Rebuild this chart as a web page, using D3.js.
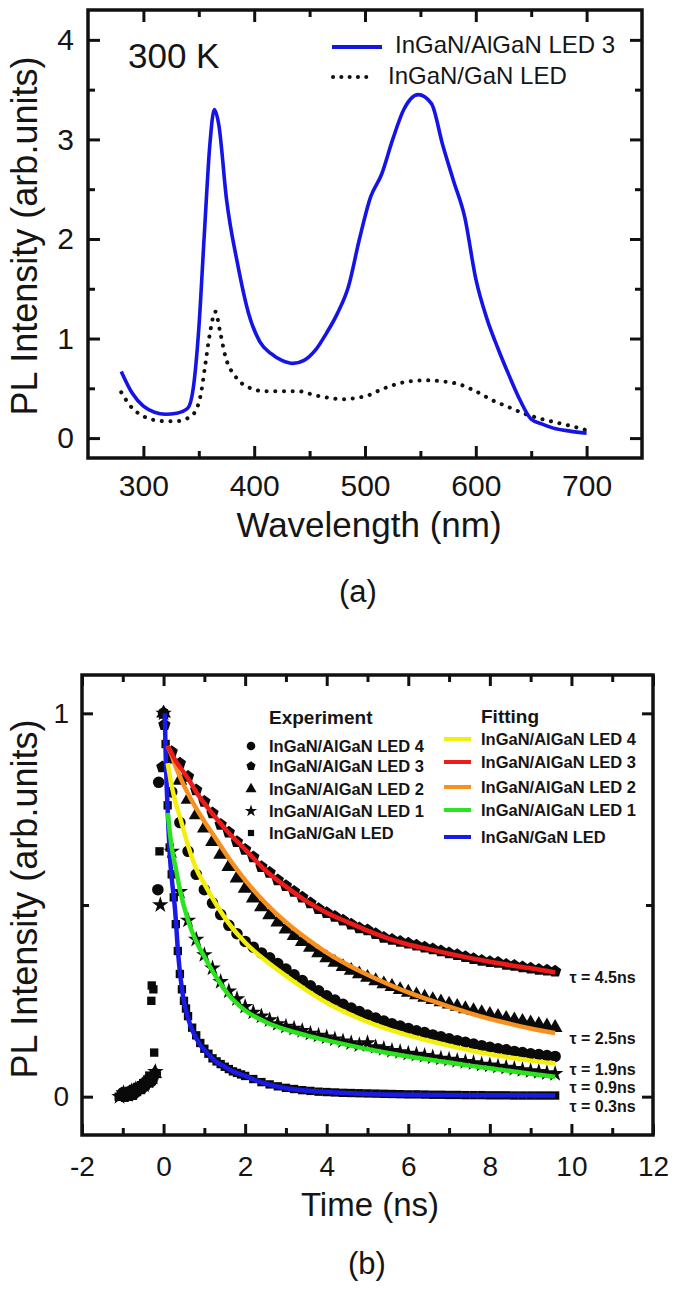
<!DOCTYPE html>
<html><head><meta charset="utf-8">
<script src="https://cdn.jsdelivr.net/npm/d3@7"></script>
<style>
body{margin:0;background:#fff}
svg{display:block}
text{font-family:"Liberation Sans",Arial,sans-serif;fill:#151515}
</style>
</head><body>
<svg id="c" width="680" height="1289"></svg>
<script>
// ================= Panel (a) data =================
const wlBlue = [280,290,300,310,320,330,340,345,350,355,360,364,368,375,385,395,405,415,425,435,445,455,465,475,485,495,505,515,525,535,548,560,570,580,590,600,610,620,630,640,650,660,670,685,700];
const plBlue = [0.67,0.45,0.32,0.26,0.24,0.25,0.30,0.50,1.10,2.05,2.95,3.30,3.15,2.40,1.75,1.25,0.97,0.85,0.78,0.75,0.78,0.88,1.05,1.25,1.52,2.00,2.42,2.65,3.00,3.30,3.45,3.36,2.95,2.58,2.22,1.60,1.20,0.90,0.63,0.38,0.19,0.14,0.10,0.07,0.05];
const wlDot = [280,290,300,310,320,330,340,347,352,356,360,365,369,374,383,395,410,425,440,455,470,480,490,503,515,525,540,555,570,585,600,615,630,645,660,675,690,700];
const plDot = [0.46,0.30,0.22,0.18,0.17,0.17,0.20,0.27,0.45,0.75,1.05,1.27,1.08,0.82,0.62,0.51,0.47,0.47,0.47,0.43,0.40,0.39,0.40,0.43,0.49,0.53,0.57,0.58,0.57,0.54,0.47,0.38,0.31,0.24,0.19,0.15,0.11,0.08];
const wlMajor = [300,400,500,600,700];
const wlMinor = [350,450,550,650];
const plMajorA = [0,1,2,3,4];
const plMinorA = [0.5,1.5,2.5,3.5];
const legendA = ["InGaN/AlGaN LED 3","InGaN/GaN LED"];

// ================= Panel (b) data =================
const expNames = ["InGaN/AlGaN LED 4","InGaN/AlGaN LED 3","InGaN/AlGaN LED 2","InGaN/AlGaN LED 1","InGaN/GaN LED"];
const fitColors = ["#f4ee0c","#ee1b1b","#f7901e","#2ce31f","#1a1ae6"];
const tauText = ["τ = 4.5ns","τ = 2.5ns","τ = 1.9ns","τ = 0.9ns","τ = 0.3ns"];

// decay experiment (shared time grid, ns)
const expTime = [0.2,0.4,0.6,0.8,1.0,1.2,1.4,1.6,1.8,2.0,2.2,2.4,2.6,2.8,3.0,3.2,3.4,3.6,3.8,4.0,4.2,4.4,4.6,4.8,5.0,5.2,5.4,5.6,5.8,6.0,6.2,6.4,6.6,6.8,7.0,7.2,7.4,7.6,7.8,8.0,8.2,8.4,8.6,8.8,9.0,9.2,9.4,9.6];
const expLED4 = [0.795,0.715,0.64,0.58,0.54,0.505,0.475,0.447,0.425,0.405,0.39,0.375,0.362,0.347,0.333,0.318,0.303,0.289,0.276,0.263,0.252,0.241,0.231,0.222,0.213,0.205,0.197,0.19,0.184,0.178,0.172,0.167,0.161,0.156,0.151,0.146,0.142,0.137,0.133,0.129,0.125,0.122,0.118,0.115,0.112,0.11,0.107,0.105];
const expLED3 = [0.90,0.87,0.835,0.80,0.77,0.74,0.71,0.69,0.665,0.645,0.625,0.60,0.585,0.565,0.55,0.535,0.52,0.505,0.49,0.48,0.47,0.46,0.45,0.44,0.435,0.425,0.415,0.41,0.405,0.40,0.395,0.39,0.385,0.38,0.375,0.37,0.365,0.36,0.355,0.352,0.35,0.345,0.342,0.338,0.335,0.332,0.33,0.327];
const expLED2 = [0.88,0.825,0.775,0.735,0.70,0.665,0.632,0.60,0.57,0.543,0.518,0.495,0.474,0.455,0.437,0.42,0.404,0.389,0.375,0.362,0.35,0.339,0.329,0.32,0.311,0.302,0.294,0.287,0.279,0.272,0.265,0.259,0.253,0.247,0.241,0.235,0.229,0.224,0.219,0.214,0.209,0.204,0.20,0.196,0.192,0.188,0.184,0.18];
const expLED1 = [0.64,0.535,0.46,0.41,0.37,0.335,0.30,0.275,0.255,0.235,0.22,0.21,0.20,0.19,0.183,0.178,0.172,0.165,0.16,0.155,0.15,0.145,0.14,0.135,0.14,0.13,0.125,0.12,0.117,0.113,0.11,0.107,0.103,0.10,0.097,0.094,0.091,0.088,0.084,0.082,0.079,0.076,0.073,0.07,0.067,0.065,0.062,0.06];
const gaNTime = [0.05,0.1,0.15,0.2,0.25,0.3,0.35,0.4,0.45,0.5,0.55,0.6,0.7,0.8,0.9,1.0,1.1,1.2,1.3,1.4,1.5,1.6,1.7,1.8,1.9,2.0,2.2,2.4,2.6,2.8,3.0,3.2,3.4,3.6,3.8,4.0,4.2,4.4,4.6,4.8,5.0,5.2,5.4,5.6,5.8,6.0,6.2,6.4,6.6,6.8,7.0,7.2,7.4,7.6,7.8,8.0,8.2,8.4,8.6,8.8,9.0,9.2,9.4,9.6];
const expGaN = [0.92,0.76,0.65,0.58,0.52,0.45,0.38,0.32,0.28,0.25,0.23,0.21,0.18,0.16,0.14,0.125,0.112,0.10,0.092,0.085,0.078,0.072,0.066,0.062,0.058,0.054,0.046,0.038,0.032,0.027,0.023,0.02,0.017,0.015,0.013,0.012,0.011,0.01,0.0095,0.009,0.0085,0.008,0.0075,0.007,0.0065,0.006,0.006,0.0055,0.005,0.005,0.0045,0.0045,0.004,0.004,0.004,0.0035,0.0035,0.0035,0.003,0.003,0.003,0.003,0.003,0.003];

// rising edge (t < 0) of each measurement
const riseTimeLED4 = [-1.0,-0.9,-0.8,-0.7,-0.6,-0.5,-0.4,-0.3,-0.2,-0.14,-0.12,0.0];
const riseLED4 = [0.01,0.005,0.015,0.01,0.02,0.025,0.035,0.04,0.06,0.54,0.82,1.0];
const riseTimeLED3 = [-0.95,-0.85,-0.75,-0.65,-0.55,-0.45,-0.35,-0.25,-0.03,0.02];
const riseLED3 = [0.0,0.01,0.005,0.015,0.02,0.03,0.04,0.05,0.86,0.97];
const riseTimeLED2 = [-1.02,-0.92,-0.82,-0.72,-0.62,-0.52,-0.42,-0.32,-0.22,0.0];
const riseLED2 = [0.005,0.0,0.01,0.015,0.02,0.03,0.035,0.045,0.06,1.0];
const riseTimeLED1 = [-1.08,-0.98,-0.88,-0.78,-0.68,-0.58,-0.48,-0.38,-0.28,-0.2,-0.08,0.0];
const riseLED1 = [0.0,0.01,0.005,0.015,0.02,0.025,0.03,0.04,0.05,0.065,0.50,1.0];
const riseTimeGaN = [-1.1,-1.05,-1.0,-0.95,-0.9,-0.85,-0.8,-0.75,-0.7,-0.65,-0.6,-0.55,-0.5,-0.45,-0.4,-0.35,-0.3,-0.29,-0.25,-0.23,-0.1,0.0];
const riseGaN = [0.0,0.005,0.0,0.01,0.005,0.015,0.01,0.02,0.015,0.025,0.02,0.03,0.035,0.03,0.045,0.055,0.25,0.29,0.28,0.115,0.64,1.0];

// fitted curves
const fitTime = [0.1,0.2,0.3,0.4,0.6,0.8,1.0,1.3,1.6,2.0,2.5,3.0,3.5,4.0,4.5,5.0,5.5,6.0,6.5,7.0,7.5,8.0,8.5,9.0,9.6];
const fitLED4 = [0.87,0.81,0.765,0.73,0.655,0.595,0.555,0.50,0.452,0.402,0.355,0.315,0.278,0.245,0.218,0.195,0.176,0.16,0.146,0.133,0.121,0.111,0.102,0.094,0.087];
const fitLED3 = [0.915,0.895,0.875,0.86,0.83,0.795,0.765,0.725,0.688,0.645,0.59,0.548,0.51,0.48,0.456,0.433,0.413,0.397,0.385,0.373,0.362,0.352,0.343,0.335,0.324];
const fitLED2 = [0.915,0.89,0.86,0.835,0.79,0.752,0.718,0.67,0.622,0.565,0.505,0.455,0.413,0.376,0.345,0.318,0.294,0.272,0.253,0.235,0.218,0.203,0.19,0.178,0.166];
const fitLED1 = [0.74,0.65,0.595,0.54,0.46,0.405,0.365,0.31,0.265,0.225,0.195,0.175,0.16,0.147,0.135,0.124,0.114,0.105,0.097,0.089,0.081,0.074,0.067,0.06,0.052];
const fitTimeGaN = [0.03,0.05,0.08,0.12,0.16,0.2,0.28,0.36,0.48,0.6,0.73,0.9,1.06,1.3,1.5,1.7,2.0,2.4,3.0,3.5,4.0,5.0,6.0,7.5,9.6];
const fitGaN = [1.0,0.9,0.8,0.7,0.62,0.57,0.49,0.37,0.26,0.205,0.167,0.135,0.115,0.09,0.078,0.066,0.054,0.037,0.022,0.016,0.012,0.007,0.005,0.004,0.003];

const tMajor = [-2,0,2,4,6,8,10,12];
const tMinor = [-1,1,3,5,7,9,11];
const plMajorB = [0,1];
const plMinorB = [0.5];

// ================= drawing =================
const svg = d3.select("#c");

function frameAxes(x, y, box, major, minor, lab) {
  const g = svg.append("g");
  const add = (gen, tr, vals, len, fmt, pad) => {
    const a = g.append("g").attr("transform", tr)
      .call(gen.tickValues(vals).tickSize(-len).tickPadding(pad).tickFormat(fmt));
    a.select(".domain").remove();
    a.selectAll("line").attr("stroke", "#111").attr("stroke-width", 3);
    a.selectAll("text").attr("font-size", lab.font).attr("fill", "#151515")
      .style("font-family", '"Liberation Sans",Arial,sans-serif');
    return a;
  };
  const none = () => "";
  const fmt = d => String(d);
  add(d3.axisBottom(x), `translate(0,${box.b})`, major.x, major.len, fmt, lab.xpad);
  add(d3.axisBottom(x), `translate(0,${box.b})`, minor.x, minor.len, none, 0);
  add(d3.axisTop(x), `translate(0,${box.t})`, major.x, major.len, none, 0);
  add(d3.axisTop(x), `translate(0,${box.t})`, minor.x, minor.len, none, 0);
  add(d3.axisLeft(y), `translate(${box.l},0)`, major.y, major.len, fmt, lab.ypad);
  add(d3.axisLeft(y), `translate(${box.l},0)`, minor.y, minor.len, none, 0);
  add(d3.axisRight(y), `translate(${box.r},0)`, major.y, major.len, none, 0);
  add(d3.axisRight(y), `translate(${box.r},0)`, minor.y, minor.len, none, 0);
  g.append("rect").attr("x", box.l).attr("y", box.t)
    .attr("width", box.r - box.l).attr("height", box.b - box.t)
    .attr("fill", "none").attr("stroke", "#111").attr("stroke-width", 3.5);
}

// ---------- Panel (a) ----------
const boxA = {l: 88, r: 642, t: 10, b: 458};
const xA = d3.scaleLinear().domain([250, 750]).range([boxA.l, boxA.r]);
const yA = d3.scaleLinear().domain([-0.2, 4.3]).range([boxA.b, boxA.t]);
const lineA = d3.line().x(d => xA(d[0])).y(d => yA(d[1])).curve(d3.curveMonotoneX);

svg.append("path").datum(d3.zip(wlDot, plDot)).attr("d", lineA)
  .attr("fill", "none").attr("stroke", "#111").attr("stroke-width", 4)
  .attr("stroke-linecap", "round").attr("stroke-dasharray", "0.1 8.6");
svg.append("path").datum(d3.zip(wlBlue, plBlue)).attr("d", lineA)
  .attr("fill", "none").attr("stroke", "#1414e6").attr("stroke-width", 3.6)
  .attr("stroke-linejoin", "round");

frameAxes(xA, yA, boxA, {x: wlMajor, y: plMajorA, len: 12}, {x: wlMinor, y: plMinorA, len: 7}, {xpad: 17, ypad: 14, font: 30});

svg.append("text").attr("x", 128).attr("y", 68).attr("font-size", 35).text("300 K");
svg.append("line").attr("x1", 332).attr("x2", 382).attr("y1", 47).attr("y2", 47)
  .attr("stroke", "#1414e6").attr("stroke-width", 4);
svg.append("text").attr("x", 395).attr("y", 53).attr("font-size", 24).text(legendA[0]);
svg.append("line").attr("x1", 333).attr("x2", 374).attr("y1", 77).attr("y2", 77)
  .attr("stroke", "#111").attr("stroke-width", 4).attr("stroke-linecap", "round")
  .attr("stroke-dasharray", "0.1 8.2");
svg.append("text").attr("x", 388).attr("y", 84).attr("font-size", 24).text(legendA[1]);

svg.append("text").attr("transform", "translate(37,236) rotate(-90)")
  .attr("text-anchor", "middle").attr("font-size", 36).text("PL Intensity (arb.units)");
svg.append("text").attr("x", 369).attr("y", 537).attr("text-anchor", "middle")
  .attr("font-size", 35).text("Wavelength (nm)");
svg.append("text").attr("x", 358).attr("y", 602).attr("text-anchor", "middle")
  .attr("font-size", 31).text("(a)");

// ---------- Panel (b) ----------
const boxB = {l: 82, r: 653, t: 675, b: 1135};
const xB = d3.scaleLinear().domain([-2, 12]).range([boxB.l, boxB.r]);
const yB = d3.scaleLinear().domain([-0.1, 1.1]).range([boxB.b, boxB.t]);
const lineB = d3.line().x(d => xB(d[0])).y(d => yB(d[1])).curve(d3.curveMonotoneX);

const symPentagon = {
  draw(ctx, size) {
    const r = Math.sqrt(size / 2.378);
    for (let i = 0; i < 5; i++) {
      const a = -Math.PI / 2 + i * 2 * Math.PI / 5;
      const px = r * Math.cos(a), py = r * Math.sin(a);
      if (i) ctx.lineTo(px, py); else ctx.moveTo(px, py);
    }
    ctx.closePath();
  }
};
const symbols = [d3.symbolCircle, symPentagon, d3.symbolTriangle, d3.symbolStar, d3.symbolSquare];
const symSize = [105, 100, 95, 85, 70];

const expSeries = [
  {t: riseTimeLED4.concat(expTime), v: riseLED4.concat(expLED4)},
  {t: riseTimeLED3.concat(expTime), v: riseLED3.concat(expLED3)},
  {t: riseTimeLED2.concat(expTime), v: riseLED2.concat(expLED2)},
  {t: riseTimeLED1.concat(expTime), v: riseLED1.concat(expLED1)},
  {t: riseTimeGaN.concat(gaNTime), v: riseGaN.concat(expGaN)}
];
const fitSeries = [
  {t: fitTime, v: fitLED4},
  {t: fitTime, v: fitLED3},
  {t: fitTime, v: fitLED2},
  {t: fitTime, v: fitLED1},
  {t: fitTimeGaN, v: fitGaN}
];

[4, 3, 0, 2, 1].forEach(i => {
  const s = expSeries[i];
  svg.append("g").selectAll("path").data(d3.zip(s.t, s.v)).join("path")
    .attr("transform", d => `translate(${xB(d[0])},${yB(d[1])})`)
    .attr("d", d3.symbol(symbols[i], symSize[i]))
    .attr("fill", "#0a0a0a");
});
[4, 3, 0, 2, 1].forEach(i => {
  const s = fitSeries[i];
  svg.append("path").datum(d3.zip(s.t, s.v)).attr("d", lineB)
    .attr("fill", "none").attr("stroke", fitColors[i]).attr("stroke-width", 4.5)
    .attr("stroke-linejoin", "round");
});

frameAxes(xB, yB, boxB, {x: tMajor, y: plMajorB, len: 11}, {x: tMinor, y: plMinorB, len: 7}, {xpad: 21, ypad: 13, font: 28});

// legend b
const expRowY = [746, 766, 789, 811, 833];
const fitRowY = [739, 762, 787, 810, 837];
svg.append("text").attr("x", 269).attr("y", 724).attr("font-size", 19)
  .attr("font-weight", "bold").text("Experiment");
svg.append("text").attr("x", 481).attr("y", 723).attr("font-size", 19)
  .attr("font-weight", "bold").text("Fitting");
expNames.forEach((n, i) => {
  svg.append("path").attr("transform", `translate(251,${expRowY[i]})`)
    .attr("d", d3.symbol(symbols[i], symSize[i] * 0.55)).attr("fill", "#0a0a0a");
  svg.append("text").attr("x", 269).attr("y", expRowY[i] + 6).attr("font-size", 16.5)
    .attr("font-weight", "bold").text(n);
  svg.append("line").attr("x1", 444).attr("x2", 471).attr("y1", fitRowY[i]).attr("y2", fitRowY[i])
    .attr("stroke", fitColors[i]).attr("stroke-width", 4);
  svg.append("text").attr("x", 481).attr("y", fitRowY[i] + 6).attr("font-size", 16.5)
    .attr("font-weight", "bold").text(n);
});

const tauAt = [0.31, 0.151, 0.072, 0.023, -0.026];
tauText.forEach((s, i) => {
  svg.append("text").attr("x", xB(9.95)).attr("y", yB(tauAt[i])).attr("dy", "0.35em")
    .attr("font-size", 16).attr("font-weight", "bold").text(s);
});

svg.append("text").attr("transform", "translate(37,899) rotate(-90)")
  .attr("text-anchor", "middle").attr("font-size", 36).text("PL Intensity (arb.units)");
svg.append("text").attr("x", 370).attr("y", 1216).attr("text-anchor", "middle")
  .attr("font-size", 33).text("Time (ns)");
svg.append("text").attr("x", 367).attr("y", 1274).attr("text-anchor", "middle")
  .attr("font-size", 31).text("(b)");
</script>
</body></html>
